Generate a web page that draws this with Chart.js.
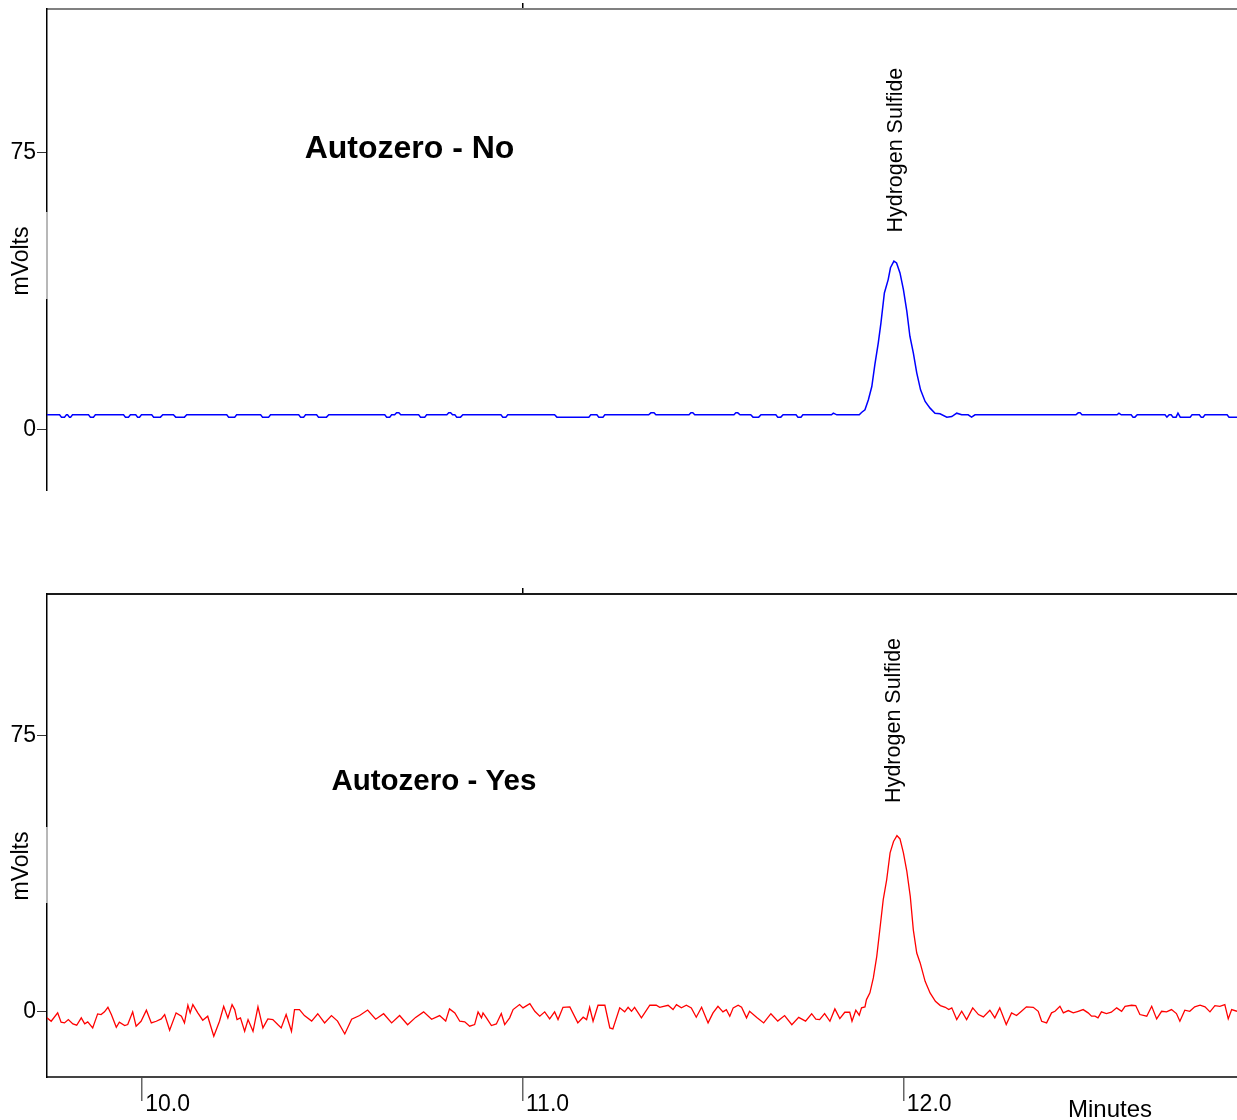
<!DOCTYPE html>
<html><head><meta charset="utf-8">
<script src="https://cdn.jsdelivr.net/npm/chart.js@4.4.1/dist/chart.umd.min.js"></script>
<style>
html,body{margin:0;padding:0;background:#fff;width:1237px;height:1120px;overflow:hidden}
canvas{position:absolute;left:0}
#c1{top:0}
#c2{top:560px}
</style></head><body>
<canvas id="c1" width="1237" height="560"></canvas>
<canvas id="c2" width="1237" height="560"></canvas>
<script>
// ---------- DATA ----------
const xTickValues = [10.0, 11.0, 12.0];
const xTopTickValues = [11.0];
const yTickValues = [0, 75];
const xMin = 9.75, xMax = 12.875;
const panelTitles = ['Autozero - No', 'Autozero - Yes'];
const peakName = 'Hydrogen Sulfide';
const yAxisTitle = 'mVolts';
const xAxisTitle = 'Minutes';

const blueTime = [9.750,9.783,9.788,9.796,9.801,9.804,9.809,9.812,9.817,9.859,9.864,9.872,9.877,9.951,9.956,9.964,9.969,9.983,9.988,9.993,9.998,
10.025,10.030,10.048,10.054,10.082,10.088,10.111,10.117,10.222,10.227,10.243,10.248,10.311,10.316,10.332,10.337,10.411,10.416,10.424,10.429,
10.458,10.463,10.484,10.490,10.637,10.642,10.650,10.655,10.663,10.668,10.674,10.679,10.726,10.731,10.742,10.747,10.800,10.805,10.810,10.815,
10.821,10.826,10.836,10.842,10.942,10.947,10.955,10.960,11.083,11.089,11.173,11.178,11.194,11.199,11.210,11.215,11.330,11.336,11.344,11.349,
11.436,11.441,11.446,11.451,11.554,11.559,11.564,11.570,11.598,11.604,11.619,11.625,11.664,11.669,11.677,11.683,11.717,11.722,11.730,11.735,
11.780,11.810,11.815,11.824,11.883,11.889,11.898,11.907,11.916,11.924,11.933,11.940,11.949,11.959,11.965,11.974,11.981,11.990,11.999,12.008,
12.016,12.025,12.034,12.044,12.056,12.069,12.082,12.095,12.113,12.126,12.139,12.152,12.169,12.178,12.187,12.253,
12.452,12.458,12.463,12.468,12.560,12.565,12.571,12.597,12.602,12.607,12.613,12.686,12.691,12.697,12.702,12.707,12.715,12.720,12.726,12.752,12.757,
12.776,12.781,12.786,12.791,12.849,12.854,12.875];
const blueMv = [4.06,4.06,3.44,3.44,4.06,4.06,3.44,3.44,4.06,4.06,3.44,3.44,4.06,4.06,3.44,3.44,4.06,4.06,3.44,3.44,4.06,
4.06,3.44,3.44,4.06,4.06,3.44,3.44,4.06,4.06,3.44,3.44,4.06,4.06,3.44,3.44,4.06,4.06,3.44,3.44,4.06,
4.06,3.44,3.44,4.06,4.06,3.44,3.44,4.06,4.06,4.6,4.6,4.06,4.06,3.44,3.44,4.06,4.06,4.6,4.6,4.06,
4.06,3.44,3.44,4.06,4.06,3.44,3.44,4.06,4.06,3.44,3.44,4.06,4.06,3.44,3.44,4.06,4.06,4.6,4.6,4.06,
4.06,4.6,4.6,4.06,4.06,4.6,4.6,4.06,4.06,3.44,3.44,4.06,4.06,3.44,3.44,4.06,4.06,3.44,3.44,4.06,
4.06,4.06,4.51,4.06,4.06,4.69,5.42,8.12,11.7,17.6,23.5,28.9,37.0,40.6,43.8,45.6,45.1,42.4,37.9,32.0,
25.3,20.8,15.4,10.8,7.67,5.87,4.51,4.33,3.44,3.61,4.51,4.06,4.06,3.44,4.06,4.06,
4.06,4.6,4.6,4.06,4.06,4.5,4.06,4.06,3.44,3.44,4.06,4.06,3.44,4.06,4.06,3.44,3.44,4.5,3.44,3.44,4.06,
4.06,3.44,3.44,4.06,4.06,3.44,3.44];

const redTime = [9.750,9.761,9.778,9.787,9.796,9.806,9.818,9.828,9.840,9.849,9.857,9.870,9.883,9.892,9.901,9.910,9.919,9.932,9.940,9.954,9.962,9.975,9.984,9.997,
10.011,10.024,10.037,10.050,10.059,10.072,10.089,10.103,10.111,10.120,10.126,10.133,10.146,10.159,10.172,10.188,10.203,10.214,10.225,10.236,10.243,10.249,10.258,10.269,10.278,10.291,
10.304,10.317,10.330,10.343,10.356,10.365,10.378,10.392,10.400,10.413,10.426,10.445,10.461,10.479,10.497,10.513,10.532,10.550,10.571,10.592,10.613,10.634,10.655,10.676,10.697,10.718,10.739,10.760,10.781,10.797,
10.807,10.821,10.834,10.847,10.860,10.873,10.882,10.891,10.895,10.904,10.917,10.930,10.943,10.952,10.965,10.974,10.991,11.000,11.018,11.031,11.044,11.057,11.070,11.083,11.092,
11.105,11.123,11.144,11.158,11.167,11.175,11.184,11.197,11.215,11.228,11.236,11.254,11.267,11.276,11.285,11.293,11.311,11.333,11.350,11.359,11.381,11.394,11.403,11.416,11.429,11.442,11.455,11.469,11.486,11.499,
11.512,11.525,11.534,11.543,11.552,11.565,11.574,11.587,11.595,11.614,11.632,11.651,11.669,11.687,11.706,11.724,11.742,11.758,11.769,11.779,11.792,11.806,11.819,11.832,11.845,11.858,11.864,11.874,11.883,11.889,11.898,
11.902,11.911,11.920,11.929,11.938,11.946,11.955,11.964,11.973,11.982,11.990,11.999,12.008,12.017,12.025,12.034,12.043,12.056,12.069,12.083,12.096,12.109,12.118,12.126,12.139,12.152,12.165,12.181,12.196,12.209,12.226,12.239,12.252,
12.269,12.283,12.296,12.309,12.322,12.340,12.353,12.362,12.375,12.388,12.397,12.410,12.419,12.432,12.445,12.458,12.471,12.484,12.493,12.502,12.510,12.519,12.532,12.545,12.559,12.572,12.581,12.598,12.609,12.620,12.638,
12.651,12.664,12.677,12.690,12.703,12.716,12.725,12.738,12.751,12.764,12.778,12.791,12.804,12.817,12.830,12.843,12.852,12.861,12.875];
const redMv = [-1.63,-2.55,-0.27,-2.82,-3.00,-2.09,-3.27,-3.63,-1.63,-3.27,-2.72,-4.35,-0.55,-0.73,0.00,1.25,-0.73,-4.17,-2.82,-3.72,-3.45,0.00,-3.90,-2.55,
0.45,-3.00,-2.55,-1.90,-0.73,-4.99,-0.27,-1.18,-3.00,1.80,-0.27,1.98,-0.27,-2.27,-1.18,-6.62,-2.55,1.52,-1.63,1.98,0.62,-2.09,-1.63,-5.27,-2.09,-5.27,
1.36,-4.35,-1.90,-2.09,-3.45,-4.35,-0.73,-5.27,0.62,0.62,-1.0,-2.5,-0.5,-3.0,-1.0,-2.5,-6.0,-2.0,-1.0,0.5,-2.0,-0.5,-3.0,-1.0,-3.5,-1.5,0.0,-2.0,-1.0,-2.5,
0.81,-0.27,-2.55,-2.72,-3.90,-3.45,0.00,-1.63,-0.27,-1.63,-3.72,-3.27,-0.46,-3.45,-1.63,0.62,1.98,1.09,2.25,0.16,-1.18,0.00,-1.90,0.00,-2.09,
1.25,1.36,-3.00,-1.45,-2.09,1.25,-2.55,1.80,1.80,-4.35,-4.62,1.09,0.00,1.25,0.16,1.25,-1.63,1.80,1.80,1.25,1.80,0.62,1.98,1.09,1.80,1.09,-1.45,1.25,-3.00,-0.27,
1.52,0.00,0.62,-1.18,1.09,1.80,1.25,-1.63,0.16,-1.5,-3.0,-0.5,-2.5,-1.0,-3.5,-1.5,-2.5,-0.5,-2.0,-2.09,-0.46,-2.55,0.81,-1.82,-0.10,-0.10,-2.55,0.45,-0.91,1.09,1.36,
3.34,5.16,9.23,15.1,23.2,30.5,35.9,43.2,46.3,47.9,47.0,43.2,38.2,31.4,22.3,16.0,13.3,8.3,5.16,2.88,1.71,1.25,0.62,1.09,-2.09,0.16,-2.09,1.09,-0.73,-1.36,0.45,-1.63,1.09,
-3.45,-0.27,-1.00,0.16,1.36,1.25,0.16,-2.55,-3.00,-0.27,0.16,1.52,-0.27,0.35,-0.27,0.16,0.62,-0.27,-1.18,-1.18,-1.63,0.00,-0.46,-0.10,1.09,0.16,1.52,1.80,1.71,-0.73,-1.18,
1.52,-1.90,0.16,0.00,0.62,-0.46,-2.55,0.45,0.16,1.36,1.80,1.36,0.00,1.71,1.52,1.98,-1.90,0.62,0.16];

// ---------- RENDER ----------
const FONT = "'Liberation Sans', Arial, Helvetica, sans-serif";
Chart.defaults.font.family = FONT;
Chart.defaults.color = '#000';

function pts(ts, vs) { return ts.map((t, i) => ({x: t, y: vs[i]})); }

const annotPlugin = {
  id: 'annot',
  afterDraw(chart, args, o) {
    const ctx = chart.ctx, xs = chart.scales.x, ys = chart.scales.y;
    const ca = chart.chartArea;
    ctx.save();
    ctx.strokeStyle = '#b8b8b8'; ctx.lineWidth = 2;
    ctx.beginPath(); ctx.moveTo(ca.left, o.graySeg[0]); ctx.lineTo(ca.left, o.graySeg[1]); ctx.stroke();
    ctx.fillStyle = '#000';
    ctx.font = 'bold ' + o.titleSize + 'px ' + FONT;
    ctx.textAlign = 'center'; ctx.textBaseline = 'middle';
    ctx.fillText(o.title, xs.getPixelForValue(o.titleAt[0]), ys.getPixelForValue(o.titleAt[1]));
    ctx.save();
    ctx.translate(xs.getPixelForValue(o.peakAt[0]), ys.getPixelForValue(o.peakAt[1]));
    ctx.rotate(-Math.PI / 2);
    ctx.font = '21.5px ' + FONT; ctx.textAlign = 'left'; ctx.textBaseline = 'middle';
    ctx.fillText(peakName, 0, 0);
    ctx.restore();
    ctx.save();
    ctx.translate(o.yTitle[0], o.yTitle[1]);
    ctx.rotate(-Math.PI / 2);
    ctx.font = '23px ' + FONT; ctx.textAlign = 'center'; ctx.textBaseline = 'middle';
    ctx.fillText(yAxisTitle, 0, 0);
    ctx.restore();
    if (o.xTitle) {
      ctx.font = '24px ' + FONT; ctx.textAlign = 'left'; ctx.textBaseline = 'alphabetic';
      ctx.fillText(xAxisTitle, o.xTitle[0], o.xTitle[1]);
    }
    ctx.restore();
  }
};

function yScale(min, max) {
  return {
    type: 'linear', position: 'left', min: min, max: max,
    afterBuildTicks: s => { s.ticks = yTickValues.map(v => ({value: v})); },
    afterFit: s => { s.width = 47; s.paddingTop = 0; s.paddingBottom = 0; },
    ticks: {font: {size: 23}, color: '#000', padding: 1, callback: v => String(v)},
    grid: {drawOnChartArea: false, drawTicks: true, tickLength: 10, color: '#333', lineWidth: 1},
    border: {display: true, color: '#000', width: 1.5}
  };
}
function topAxis(h, borderColor) {
  return {
    type: 'linear', position: 'top', min: xMin, max: xMax,
    afterBuildTicks: s => { s.ticks = xTopTickValues.map(v => ({value: v})); },
    afterFit: s => { s.height = h; s.paddingLeft = 0; s.paddingRight = 0; },
    ticks: {display: false},
    grid: {drawOnChartArea: false, drawTicks: true, tickLength: 6, color: '#000', lineWidth: 1.5},
    border: {display: true, color: borderColor, width: 2}
  };
}

new Chart(document.getElementById('c1'), {
  type: 'line',
  data: {datasets: [{data: pts(blueTime, blueMv), borderColor: '#0000ff', borderWidth: 1.5, pointRadius: 0, tension: 0, fill: false}]},
  options: {
    responsive: false, animation: false, devicePixelRatio: 1,
    layout: {padding: {top: 0, left: 0, right: 0, bottom: 70}},
    plugins: {legend: {display: false}, tooltip: {enabled: false},
      annot: {title: panelTitles[0], titleSize: 32, titleAt: [10.702, 75.8], peakAt: [11.979, 53.3], yTitle: [22, 261], graySeg: [212, 299]}},
    scales: {x: topAxis(9, '#808080'), y: yScale(-16.25, 113.72)}
  },
  plugins: [annotPlugin]
});

new Chart(document.getElementById('c2'), {
  type: 'line',
  data: {datasets: [{data: pts(redTime, redMv), borderColor: '#ff0000', borderWidth: 1.3, pointRadius: 0, tension: 0, fill: false, xAxisID: 'x'}]},
  options: {
    responsive: false, animation: false, devicePixelRatio: 1,
    layout: {padding: 0},
    plugins: {legend: {display: false}, tooltip: {enabled: false},
      annot: {title: panelTitles[1], titleSize: 29.5, titleAt: [10.766, 62.5], peakAt: [11.974, 56.8], yTitle: [22, 306], graySeg: [267, 343], xTitle: [1068, 557]}},
    scales: {
      xt: topAxis(34, '#1a1a1a'),
      x: {
        type: 'linear', position: 'bottom', min: xMin, max: xMax,
        afterBuildTicks: s => { s.ticks = xTickValues.map(v => ({value: v})); },
        afterFit: s => { s.height = 43; s.paddingLeft = 0; s.paddingRight = 0; },
        ticks: {font: {size: 23}, color: '#000', align: 'start', labelOffset: 3, padding: -10, maxRotation: 0, autoSkip: false,
                callback: v => Number(v).toFixed(1)},
        grid: {drawOnChartArea: false, drawTicks: true, tickLength: 24, color: '#666', lineWidth: 1.5},
        border: {display: true, color: '#444', width: 2}
      },
      y: yScale(-17.7, 113.57)
    }
  },
  plugins: [annotPlugin]
});
</script>
</body></html>
